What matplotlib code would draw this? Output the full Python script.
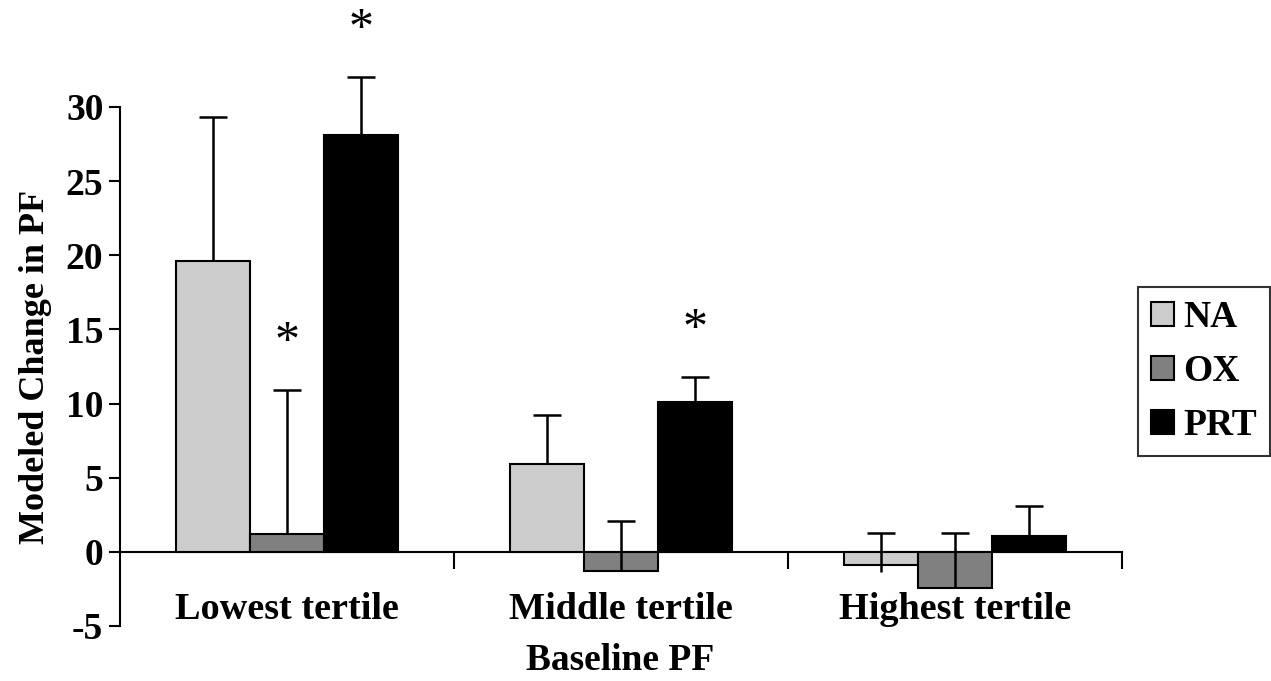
import numpy as np
import matplotlib
matplotlib.use("Agg")
import matplotlib.pyplot as plt

# values
categories = ["Lowest tertile", "Middle tertile", "Highest tertile"]
groups = ["NA", "OX", "PRT"]
na_vals = [19.6, 5.9, -0.9]
ox_vals = [1.2, -1.3, -2.45]
prt_vals = [28.1, 10.1, 1.1]
# upper end of each error bar
na_err_top = [29.35, 9.2, 1.3]
ox_err_top = [10.9, 2.1, 1.3]
prt_err_top = [32.0, 11.8, 3.1]
# lower end of the drawn error line
na_err_low = [19.6, 5.9, -1.35]
ox_err_low = [1.2, -1.3, -2.45]
prt_err_low = [28.1, 10.1, 1.1]
# significance marks (group, series index)
stars = [(0, 1), (0, 2), (1, 2)]

colors = ["#cccccc", "#808080", "#000000"]

plt.rcParams["font.family"] = ["Liberation Serif", "DejaVu Serif"]
plt.rcParams["font.weight"] = "bold"
plt.rcParams["axes.unicode_minus"] = False

fig = plt.figure(figsize=(12.71, 6.81), dpi=100)
ax = fig.add_axes([0.0944, 0.0808, 0.7884, 0.7622])

x = np.arange(len(categories))
w = 0.222
vals = [na_vals, ox_vals, prt_vals]
tops = [na_err_top, ox_err_top, prt_err_top]
lows = [na_err_low, ox_err_low, prt_err_low]

for i, g in enumerate(groups):
    pos = x + (i - 1) * w
    ax.bar(pos, vals[i], width=w, color=colors[i], edgecolor="black",
           linewidth=1.5, label=g, zorder=2)
    v = np.array(vals[i])
    lo = v - np.array(lows[i])
    hi = np.array(tops[i]) - v
    eb = ax.errorbar(pos, v, yerr=[lo, hi], fmt="none", ecolor="black",
                     elinewidth=1.8, capsize=10, capthick=1.8, zorder=3)
    # only the upper cap is drawn in the original
    eb.lines[1][0].set_visible(False)
    for art in eb.lines[1] + eb.lines[2]:
        art.set_clip_on(False)

for gi, si in stars:
    pos = x[gi] + (si - 1) * w
    ax.text(pos, tops[si][gi] + 3.2, "*", ha="center", va="center",
            fontsize=36, fontweight="normal", clip_on=False)

ax.set_xlim(-0.5, 2.5)
ax.set_ylim(-5, 30)
ax.set_yticks(range(-5, 31, 5))
ax.tick_params(axis="y", direction="out", length=8, width=1.5,
               labelsize=27, pad=4)
for lab in ax.get_yticklabels():
    lab.set_fontweight("bold")

ax.spines["top"].set_visible(False)
ax.spines["right"].set_visible(False)
ax.spines["left"].set_linewidth(1.5)
ax.spines["bottom"].set_position(("data", 0))
ax.spines["bottom"].set_linewidth(1.5)
ax.spines["bottom"].set_zorder(1)
ax.set_xticks([0.5, 1.5, 2.5])
ax.set_xticklabels([])
ax.tick_params(axis="x", direction="out", length=12, width=1.5)

for xi, c in zip(x, categories):
    ax.text(xi, -3.9, c, ha="center", va="center", fontsize=27.5,
            fontweight="bold")

ax.set_ylabel("Modeled Change in PF", fontsize=26, fontweight="bold",
              labelpad=10)
fig.text(0.488, 0.03, "Baseline PF", ha="center", va="center",
         fontsize=27, fontweight="bold")

leg = ax.legend(loc="center left", bbox_to_anchor=(1.016, 0.49),
                frameon=True, fancybox=False, edgecolor="black",
                fontsize=27, handlelength=0.6, handleheight=0.6,
                handletextpad=0.25, borderpad=0.35, labelspacing=0.5,
                borderaxespad=0)
leg.get_frame().set_linewidth(1.5)

fig.savefig("out.png", dpi=100, facecolor="white")
